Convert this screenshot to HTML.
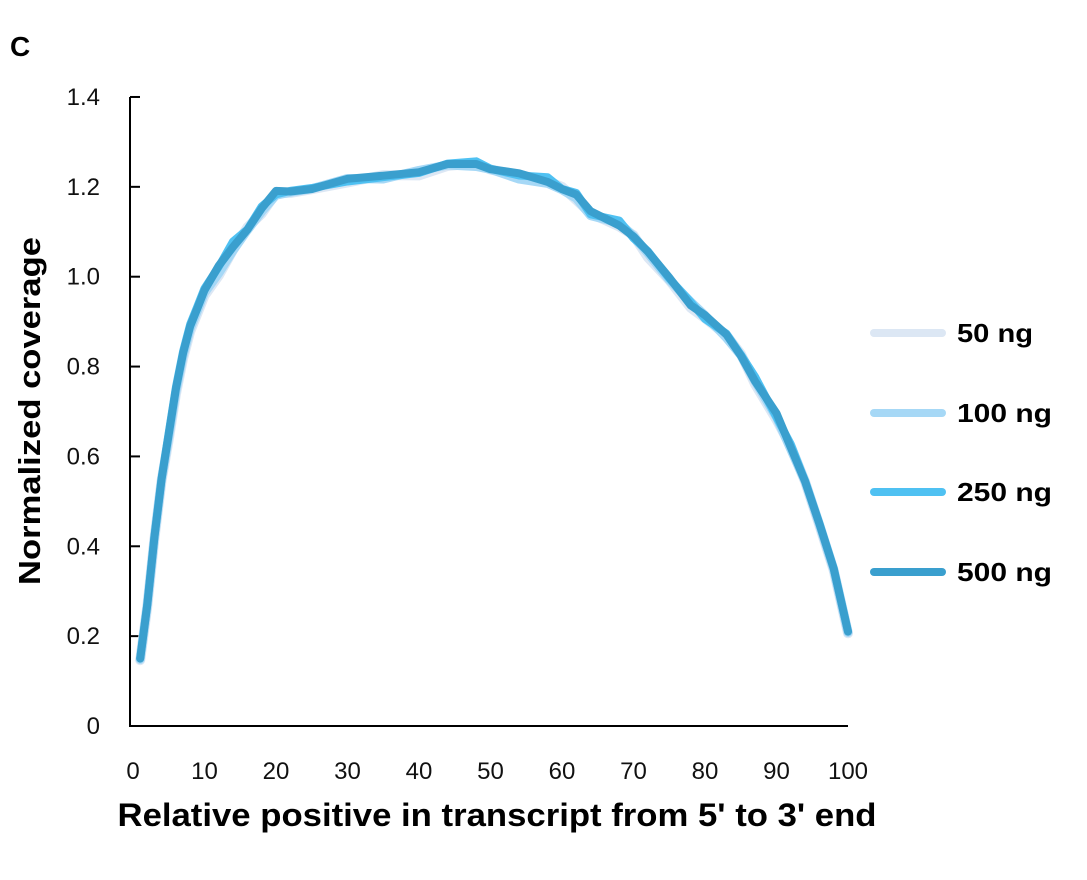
<!DOCTYPE html>
<html><head><meta charset="utf-8"><style>
body{margin:0;background:#fff;}
text{font-family:"Liberation Sans",sans-serif;}
</style></head><body>
<svg id="s" width="1087" height="875" xmlns="http://www.w3.org/2000/svg">
<text x="10" y="56" font-size="28" font-weight="bold">C</text>
<line x1="130" y1="97" x2="130" y2="726" stroke="#000" stroke-width="2"/>
<line x1="129" y1="726" x2="848" y2="726" stroke="#000" stroke-width="2"/>
<g id="yt" font-size="24" text-anchor="end" fill="#111"></g>
<g id="xt" font-size="24" text-anchor="middle" fill="#111"></g>
<text transform="translate(40,411) rotate(-90)" font-size="31" font-weight="bold" text-anchor="middle" textLength="348" lengthAdjust="spacingAndGlyphs">Normalized coverage</text>
<text x="497" y="826" font-size="32" font-weight="bold" text-anchor="middle" textLength="759" lengthAdjust="spacingAndGlyphs">Relative positive in transcript from 5' to 3' end</text>
<g id="lines" fill="none" stroke-linejoin="round" stroke-linecap="round"></g>
<g font-size="26" font-weight="bold" stroke-linecap="round">
<line x1="874" y1="333" x2="942" y2="333" stroke="#dce7f4" stroke-width="8"/><text x="957" y="342" textLength="76" lengthAdjust="spacingAndGlyphs">50 ng</text>
<line x1="874" y1="413" x2="942" y2="413" stroke="#a6d8f6" stroke-width="8"/><text x="957" y="422" textLength="95" lengthAdjust="spacingAndGlyphs">100 ng</text>
<line x1="874" y1="492" x2="942" y2="492" stroke="#4fc1f2" stroke-width="8"/><text x="957" y="501" textLength="95" lengthAdjust="spacingAndGlyphs">250 ng</text>
<line x1="874" y1="572" x2="942" y2="572" stroke="#3a9fce" stroke-width="8"/><text x="957" y="581" textLength="95" lengthAdjust="spacingAndGlyphs">500 ng</text>
</g>
</svg>
<script>
var NS="http://www.w3.org/2000/svg";
function X(v){return 133+7.15*v;}function Y(v){return 726-v*449.3;}
var yt=document.getElementById("yt");
for(var i=0;i<=7;i++){var v=i*0.2,y=Y(v);
var t=document.createElementNS(NS,"text");t.setAttribute("x",100);t.setAttribute("y",y+8);t.textContent=i==0?"0":v.toFixed(1);yt.appendChild(t);
if(i>0){var l=document.createElementNS(NS,"line");l.setAttribute("x1",130);l.setAttribute("x2",140);l.setAttribute("y1",y);l.setAttribute("y2",y);l.setAttribute("stroke","#000");l.setAttribute("stroke-width",2);yt.appendChild(l);}}
var xt=document.getElementById("xt");
for(var i=0;i<=10;i++){var t=document.createElementNS(NS,"text");t.setAttribute("x",X(i*10));t.setAttribute("y",779);t.textContent=i*10;xt.appendChild(t);}
var d=[[1,.15],[2,.27],[3,.42],[4,.55],[5,.65],[6,.75],[7,.83],[8,.89],[9,.93],[10,.97],[12,1.02],[14,1.07],[16,1.11],[18,1.15],[20,1.185],[22,1.19],[25,1.2],[30,1.215],[35,1.225],[40,1.235],[44,1.25],[48,1.25],[50,1.245],[54,1.225],[58,1.215],[60,1.2],[62,1.18],[64,1.14],[68,1.12],[70,1.09],[72,1.05],[75,1.0],[78,.94],[80,.91],[83,.87],[85,.83],[87,.77],[90,.69],[92,.62],[94,.55],[96,.45],[98,.35],[100,.21]];
var ser=[["#dce7f4",10,-.012,2],["#a6d8f6",9,-.006,3],["#4fc1f2",8,.004,5],["#3a9fce",8,0,7]];
var g=document.getElementById("lines");
ser.forEach(function(s){var p="";d.forEach(function(q,k){var n=(k>9&&k<40)?Math.sin(q[0]*s[3])*0.006:0;var off=(k>3&&k<12)?s[2]:s[2]*0.3;p+=(k?"L":"M")+X(q[0]).toFixed(1)+" "+Y(q[1]+off+n).toFixed(1);});
var e=document.createElementNS(NS,"path");e.setAttribute("d",p);e.setAttribute("stroke",s[0]);e.setAttribute("stroke-width",s[1]);g.appendChild(e);});
</script>
</body></html>
